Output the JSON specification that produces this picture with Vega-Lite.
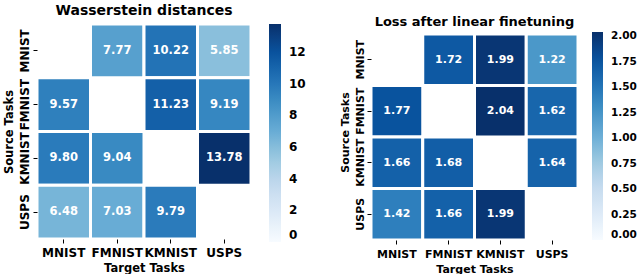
{
  "$schema": "https://vega.github.io/schema/vega-lite/v6.json",
  "padding": {"left": 3, "top": 3, "right": 0, "bottom": 0},
  "background": "white",
  "spacing": 33,
  "resolve": {"scale": {"color": "independent"}, "legend": {"color": "independent"}},
  "config": {
    "font": "DejaVu Sans",
    "view": {"stroke": null},
    "axis": {"grid": false, "domain": false, "tickColor": "black", "tickSize": 4, "labelFontWeight": "bold", "titleFontWeight": "bold", "labelColor": "black", "titleColor": "black", "labelFont": "DejaVu Sans", "titleFont": "DejaVu Sans"},
    "legend": {"labelFont": "DejaVu Sans", "labelFontWeight": "bold", "labelColor": "black", "padding": 0},
    "title": {"font": "DejaVu Sans", "fontWeight": "bold", "color": "black", "anchor": "middle"}
  },
  "datasets": {
    "w": [
      {"source": "MNIST", "target": "FMNIST", "value": 7.77},
      {"source": "MNIST", "target": "KMNIST", "value": 10.22},
      {"source": "MNIST", "target": "USPS", "value": 5.85},
      {"source": "FMNIST", "target": "MNIST", "value": 9.57},
      {"source": "FMNIST", "target": "KMNIST", "value": 11.23},
      {"source": "FMNIST", "target": "USPS", "value": 9.19},
      {"source": "KMNIST", "target": "MNIST", "value": 9.80},
      {"source": "KMNIST", "target": "FMNIST", "value": 9.04},
      {"source": "KMNIST", "target": "USPS", "value": 13.78},
      {"source": "USPS", "target": "MNIST", "value": 6.48},
      {"source": "USPS", "target": "FMNIST", "value": 7.03},
      {"source": "USPS", "target": "KMNIST", "value": 9.79}
    ],
    "l": [
      {"source": "MNIST", "target": "FMNIST", "value": 1.72},
      {"source": "MNIST", "target": "KMNIST", "value": 1.99},
      {"source": "MNIST", "target": "USPS", "value": 1.22},
      {"source": "FMNIST", "target": "MNIST", "value": 1.77},
      {"source": "FMNIST", "target": "KMNIST", "value": 2.04},
      {"source": "FMNIST", "target": "USPS", "value": 1.62},
      {"source": "KMNIST", "target": "MNIST", "value": 1.66},
      {"source": "KMNIST", "target": "FMNIST", "value": 1.68},
      {"source": "KMNIST", "target": "USPS", "value": 1.64},
      {"source": "USPS", "target": "MNIST", "value": 1.42},
      {"source": "USPS", "target": "FMNIST", "value": 1.66},
      {"source": "USPS", "target": "KMNIST", "value": 1.99}
    ]
  },
  "hconcat": [
    {
      "width": 214,
      "height": 215,
      "title": {"text": "Wasserstein distances", "fontSize": 14, "offset": 5},
      "data": {"name": "w"},
      "encoding": {
        "x": {"field": "target", "type": "nominal", "scale": {"domain": ["MNIST", "FMNIST", "KMNIST", "USPS"], "paddingInner": 0, "paddingOuter": 0},
              "axis": {"title": "Target Tasks", "labelAngle": 0, "labelFontSize": 12, "titleFontSize": 11.5, "labelPadding": 4, "titlePadding": 4}},
        "y": {"field": "source", "type": "nominal", "scale": {"domain": ["MNIST", "FMNIST", "KMNIST", "USPS"], "paddingInner": 0, "paddingOuter": 0},
              "axis": {"title": "Source Tasks", "labelAngle": -90, "labelFontSize": 12, "titleFontSize": 11.5, "labelPadding": 2, "titlePadding": 4}}
      },
      "layer": [
        {
          "mark": {"type": "rect", "stroke": "white", "strokeWidth": 3},
          "encoding": {
            "color": {"field": "value", "type": "quantitative",
              "scale": {"domain": [0, 1.7225, 3.445, 5.1675, 6.89, 8.6125, 10.335, 12.0575, 13.78],
                        "range": ["#f7fbff", "#deebf7", "#c6dbef", "#9ecae1", "#6baed6", "#4292c6", "#2171b5", "#08519c", "#08306b"]},
              "legend": {"title": null, "orient": "right", "offset": 18, "gradientLength": 218, "gradientThickness": 12, "values": [0, 2, 4, 6, 8, 10, 12], "labelFontSize": 12, "labelOffset": 8, "labelBaseline": "middle", "labelOverlap": false, "gradientStrokeWidth": 0}}
          }
        },
        {
          "mark": {"type": "text", "color": "white", "fontWeight": "bold", "fontSize": 11.5, "font": "DejaVu Sans"},
          "encoding": {"text": {"field": "value", "type": "quantitative", "format": ".2f"}}
        }
      ]
    },
    {
      "width": 207,
      "height": 216,
      "title": {"text": "Loss after linear finetuning", "fontSize": 13, "offset": -5},
      "data": {"name": "l"},
      "encoding": {
        "x": {"field": "target", "type": "nominal", "scale": {"domain": ["MNIST", "FMNIST", "KMNIST", "USPS"], "paddingInner": 0, "paddingOuter": 0},
              "axis": {"title": "Target Tasks", "labelAngle": 0, "labelFontSize": 11, "titleFontSize": 11, "labelPadding": 4, "titlePadding": 4}},
        "y": {"field": "source", "type": "nominal", "scale": {"domain": ["MNIST", "FMNIST", "KMNIST", "USPS"], "paddingInner": 0, "paddingOuter": 0.097, "align": 1},
              "axis": {"title": "Source Tasks", "labelAngle": -90, "labelFontSize": 11, "titleFontSize": 11, "labelPadding": 2, "titlePadding": 4}}
      },
      "layer": [
        {
          "mark": {"type": "rect", "stroke": "white", "strokeWidth": 3},
          "encoding": {
            "color": {"field": "value", "type": "quantitative",
              "scale": {"domain": [0, 0.255, 0.51, 0.765, 1.02, 1.275, 1.53, 1.785, 2.04],
                        "range": ["#f7fbff", "#deebf7", "#c6dbef", "#9ecae1", "#6baed6", "#4292c6", "#2171b5", "#08519c", "#08306b"]},
              "legend": {"title": null, "orient": "right", "offset": 6, "padding": 8, "gradientLength": 208, "gradientThickness": 11, "values": [0, 0.25, 0.5, 0.75, 1, 1.25, 1.5, 1.75, 2], "format": ".2f", "labelFontSize": 10.5, "labelOffset": 8, "labelBaseline": "middle", "labelOverlap": false, "gradientStrokeWidth": 0}}
          }
        },
        {
          "mark": {"type": "text", "color": "white", "fontWeight": "bold", "fontSize": 11, "font": "DejaVu Sans"},
          "encoding": {"text": {"field": "value", "type": "quantitative", "format": ".2f"}}
        }
      ]
    }
  ]
}
